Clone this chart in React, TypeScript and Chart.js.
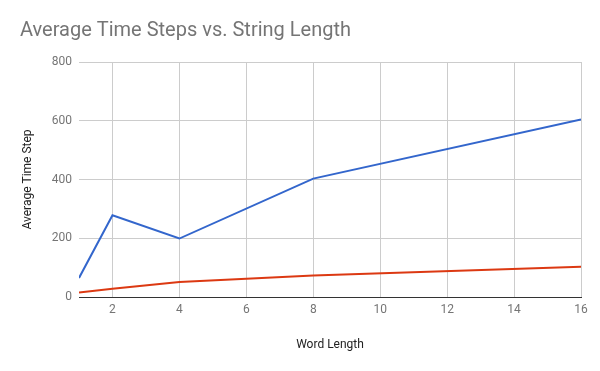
import React, { useEffect, useRef } from "react";
import { Chart, registerables } from "chart.js";

Chart.register(...registerables);

const wordLengths = [1, 2, 4, 8, 16];
const seriesBlue = [65, 278, 199, 403, 604];
const seriesRed = [15, 28, 51, 73, 103];
const xTickValues = [2, 4, 6, 8, 10, 12, 14, 16];
const yTickValues = [0, 200, 400, 600, 800];

const FONT = "Roboto";

export default function App() {
  const ref = useRef<HTMLCanvasElement>(null);
  useEffect(() => {
    document.body.style.margin = "0";
    const ctx = ref.current!;
    const chart = new Chart(ctx, {
      type: "line",
      data: {
        datasets: [
          {
            label: "Blue",
            data: wordLengths.map((x, i) => ({ x, y: seriesBlue[i] })),
            borderColor: "#3366cc",
            backgroundColor: "#3366cc",
            borderWidth: 2,
            pointRadius: 0,
            tension: 0,
          },
          {
            label: "Red",
            data: wordLengths.map((x, i) => ({ x, y: seriesRed[i] })),
            borderColor: "#dc3912",
            backgroundColor: "#dc3912",
            borderWidth: 2,
            pointRadius: 0,
            tension: 0,
          },
        ],
      },
      options: {
        animation: false,
        responsive: false,
        layout: { padding: { left: 20, right: 19, top: 0, bottom: 0 } },
        plugins: {
          legend: { display: false },
          tooltip: { enabled: false },
          title: {
            display: true,
            text: "Average Time Steps vs. String Length",
            align: "start",
            color: "#757575",
            font: { family: FONT, size: 20, weight: "normal" },
            padding: { top: 19, bottom: 19 },
          },
        },
        scales: {
          x: {
            type: "linear",
            min: 1,
            max: 16,
            afterBuildTicks: (axis: any) => {
              axis.ticks = xTickValues.map((v) => ({ value: v }));
            },
            afterFit: (scale: any) => {
              scale.height = 74;
            },
            grid: { color: "#cccccc", drawTicks: false },
            border: { display: true, color: "#333333", width: 1 },
            ticks: {
              color: "#757575",
              font: { family: FONT, size: 12 },
              padding: 6,
              maxRotation: 0,
            },
            title: {
              display: true,
              text: "Word Length",
              color: "#222222",
              font: { family: FONT, size: 12 },
              padding: { top: 0, bottom: 19 },
            },
          },
          y: {
            type: "linear",
            min: 0,
            max: 800,
            afterBuildTicks: (axis: any) => {
              axis.ticks = yTickValues.map((v) => ({ value: v }));
            },
            afterFit: (scale: any) => {
              scale.width = 59;
            },
            grid: { color: "#cccccc", drawTicks: false },
            border: { display: false },
            ticks: {
              color: "#757575",
              font: { family: FONT, size: 12 },
              padding: 7,
            },
            title: {
              display: true,
              text: "Average Time Step",
              color: "#222222",
              font: { family: FONT, size: 12 },
              padding: { top: 1, bottom: 0 },
            },
          },
        },
      },
    });
    return () => chart.destroy();
  }, []);
  return <canvas ref={ref} width={600} height={371} style={{ display: "block" }} />;
}
